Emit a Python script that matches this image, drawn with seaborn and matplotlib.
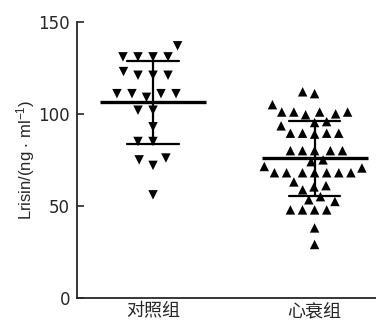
import numpy as np
import pandas as pd
import matplotlib
matplotlib.use("Agg")
import matplotlib.pyplot as plt
import seaborn as sns

# values (ng/ml)
groups = ["对照组", "心衰组"]
control = [137, 131, 131, 131, 131, 121, 121, 121, 123,
           111, 111, 111, 109, 111, 102, 102, 93, 85, 85,
           75, 72, 76, 56]
heart_failure = [112, 111, 105,
                 101, 101, 99.5, 100, 101, 101,
                 95.3, 93.5, 95.8,
                 89.5, 89.5, 89, 89.5, 89.5,
                 80, 80, 80, 80, 80,
                 75, 74, 71.4,
                 68, 68, 68, 68, 68, 68, 68, 70.6,
                 63, 61, 58.7, 60.3,
                 55, 52.4, 53.3,
                 47.8, 47.8, 47.8, 47.8,
                 38, 29]
yticks = [0, 50, 100, 150]

df = pd.DataFrame({
    "group": [groups[0]] * len(control) + [groups[1]] * len(heart_failure),
    "value": control + heart_failure,
})

sns.set_style("ticks")
plt.rcParams["font.family"] = ["Liberation Sans", "Noto Sans CJK SC", "DejaVu Sans"]
plt.rcParams["mathtext.default"] = "regular"

fig = plt.figure(figsize=(3.76, 3.22), dpi=100)
ax = fig.add_axes([0.205, 0.075, 0.795, 0.857])

sns.swarmplot(data=df[df.group == groups[0]], x="group", y="value", order=groups,
              marker="v", color="black", size=6.8, linewidth=3.5, edgecolor="none", ax=ax)
sns.swarmplot(data=df[df.group == groups[1]], x="group", y="value", order=groups,
              marker="^", color="black", size=6.8, linewidth=1.5, edgecolor="none", ax=ax)

# mean line and SD bars
sns.pointplot(data=df, x="group", y="value", order=groups, errorbar="sd",
              capsize=0.32, color="black", markers="_", linestyle="none",
              markersize=76, markeredgewidth=2.4,
              err_kws={"linewidth": 1.6}, ax=ax)

ax.set_ylim(0, 150)
ax.set_xlim(-0.47, 1.38)
ax.set_yticks(yticks)
ax.tick_params(axis="y", direction="in", length=5, width=1.2, labelsize=12, pad=5)
ax.tick_params(axis="x", length=0, labelsize=13, pad=3)
for lab in ax.get_yticklabels():
    lab.set_family(["DejaVu Sans"])
for lab in ax.get_xticklabels():
    lab.set_family(["Noto Sans CJK SC", "DejaVu Sans"])
ax.set_xlabel("")
ax.set_ylabel("Lrisin/(ng $\\cdot$ ml$^{-1}$)", fontsize=12, labelpad=1)
for s in ["left", "bottom"]:
    ax.spines[s].set_linewidth(1.3)
sns.despine(ax=ax)

fig.savefig("out.png", dpi=100)
